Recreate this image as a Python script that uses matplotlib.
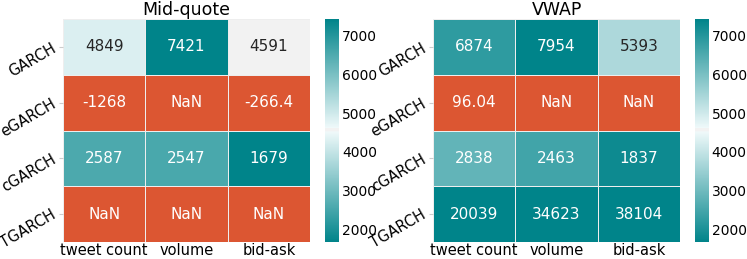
import numpy as np
import matplotlib
matplotlib.use("Agg")
import matplotlib.pyplot as plt
from matplotlib.colors import LinearSegmentedColormap, to_rgb

modelos = ["GARCH", "eGARCH", "cGARCH", "TGARCH"]
variaveis = ["tweet count", "volume", "bid-ask"]

mid_quote = [
    [4849, 7421, 4591],
    [-1268, np.nan, -266.4],
    [2587, 2547, 1679],
    [np.nan, np.nan, np.nan],
]
vwap = [
    [6874, 7954, 5393],
    [96.04, np.nan, np.nan],
    [2838, 2463, 1837],
    [20039, 34623, 38104],
]

VMIN = 1679
VMAX = 7421

teal = "#00848a"
claro = "#eff9fa"
cinza = "#f2f2f2"
laranja = "#dc5632"
cmap = LinearSegmentedColormap.from_list(
    "teal_div",
    [(0.0, teal), (0.494, claro), (0.497, cinza), (0.509, cinza),
     (0.512, claro), (1.0, teal)],
    N=512)
cmap.set_under(laranja)
cmap.set_bad(laranja)


def luminancia(rgb):
    c = np.array(rgb[:3])
    c = np.where(c <= 0.03928, c / 12.92, ((c + 0.055) / 1.055) ** 2.4)
    return 0.2126 * c[0] + 0.7152 * c[1] + 0.0722 * c[2]


def fmt(v):
    if np.isnan(v):
        return "NaN"
    if abs(v) >= 1000:
        return f"{v:.0f}"
    return f"{v:.4g}"


def desenhar(ax, cax, dados, titulo):
    dados = np.array(dados, dtype=float)
    m = np.ma.masked_invalid(dados)
    mesh = ax.pcolormesh(m, cmap=cmap, vmin=VMIN, vmax=VMAX,
                         edgecolor="#eeeeee", linewidth=0.6)
    ax.set_xlim(0, dados.shape[1])
    ax.set_ylim(dados.shape[0], 0)
    for i in range(dados.shape[0]):
        for j in range(dados.shape[1]):
            v = dados[i, j]
            if np.isnan(v):
                rgb = to_rgb(laranja)
            else:
                rgb = mesh.cmap(mesh.norm(v))
            cor = "#262626" if luminancia(rgb) > 0.408 else "white"
            ax.text(j + 0.5, i + 0.5, fmt(v), ha="center", va="center",
                    color=cor, fontsize=11)
    ax.set_xticks(np.arange(dados.shape[1]) + 0.5)
    ax.set_xticklabels(variaveis, fontsize=10.5)
    ax.set_yticks(np.arange(dados.shape[0]) + 0.5)
    ax.set_yticklabels(modelos, fontsize=10.5, rotation=30, va="center",
                       rotation_mode="anchor")
    ax.tick_params(axis="x", length=0, pad=0.5)
    ax.tick_params(axis="y", length=3, color="#cccccc", pad=3)
    for s in ax.spines.values():
        s.set_visible(False)
    ax.set_title(titulo, fontsize=12.5, pad=2)
    cb = plt.colorbar(mesh, cax=cax)
    cb.set_ticks([2000, 3000, 4000, 5000, 6000, 7000])
    cb.ax.tick_params(labelsize=10, length=0, pad=2)
    cb.outline.set_visible(False)


fig = plt.figure(figsize=(7.47, 2.59), dpi=100)
ax1 = fig.add_axes([0.0843, 0.0656, 0.3307, 0.861])
cax1 = fig.add_axes([0.435, 0.0656, 0.019, 0.861])
ax2 = fig.add_axes([0.5797, 0.0656, 0.3307, 0.861])
cax2 = fig.add_axes([0.930, 0.0656, 0.019, 0.861])

desenhar(ax1, cax1, mid_quote, "Mid-quote")
desenhar(ax2, cax2, vwap, "VWAP")

fig.savefig("out.png", dpi=100)
